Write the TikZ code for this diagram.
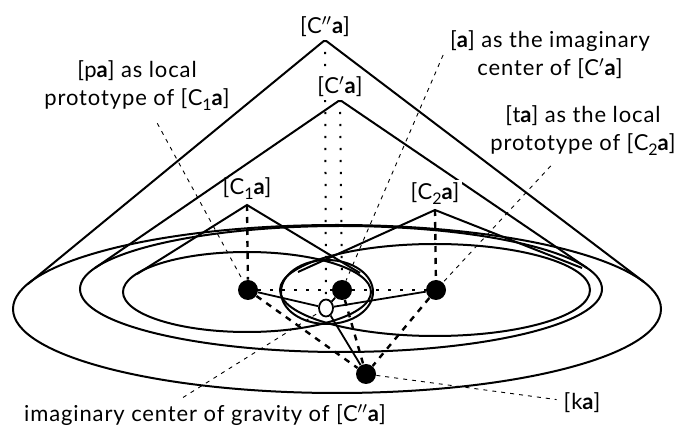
\documentclass[tikz,border=0pt]{standalone}
\usepackage{fontspec}
\setmainfont{Lato}[LetterSpace=4]
\usetikzlibrary{positioning,shapes.geometric}
\newcommand{\boa}{\ensuremath{\mathbf{a}}}
\newcommand{\subnum}[1]{\raisebox{-0.45ex}{\footnotesize #1}}

\begin{document}
\begin{tikzpicture}[
    x=0.5pt, y=-0.5pt,
    every node/.style={font=\fontsize{11}{14}\selectfont},
    rim/.style={line width=1pt},
    cone/.style={line width=1pt},
    apexlbl/.style={fill=white, inner sep=1.5pt},
    proto/.style={circle, fill=black, minimum size=10pt, inner sep=0pt},
    grav/.style={ellipse, draw, line width=0.9pt, fill=white, minimum width=7pt, minimum height=8.5pt, inner sep=0pt},
    tie/.style={line width=0.9pt},
    dotline/.style={line width=1pt, dash pattern=on 1.1pt off 4.9pt},
    dashline/.style={line width=1.2pt, dash pattern=on 3pt off 3pt},
    lead/.style={line width=0.45pt, dash pattern=on 2pt off 2.5pt}
  ]
  \useasboundingbox (0,0) rectangle (680,432);

  % base ellipses of the categories
  \draw[rim] (337,309) ellipse [x radius=324, y radius=84];
  \draw[rim] (341,289) ellipse [x radius=261, y radius=63];
  \draw[rim] (247,292) ellipse [x radius=124, y radius=40];
  \draw[rim] (435,290) ellipse [x radius=155, y radius=46];
  \draw[rim] (327,292) ellipse [x radius=46, y radius=32];

  % cone tops
  \coordinate (kpp) at (325,40);
  \coordinate (kp) at (340,100);
  \coordinate (k1) at (247,205);
  \coordinate (k2) at (435,210);

  \draw[cone] (28,284) -- (kpp) -- (644,282);
  \draw[cone] (95,268) -- (kp) -- (587,268);
  \draw[cone] (137,274) -- (k1) -- (360,273);
  \draw[cone] (298,272) -- (k2) -- (582,268);

  % prototypes
  \node[proto] (pa) at (248,290) {};
  \node[proto] (a) at (342,290) {};
  \node[proto] (ta) at (436,290) {};
  \node[proto] (ka) at (366,374) {};
  \node[grav] (g) at (326,308) {};

  \draw[dotline] (pa) -- (a) -- (ta);
  \draw[dotline] (kpp) -- (g);
  \draw[dotline] (kp) -- (a);
  \draw[dashline] (k1) -- (pa);
  \draw[dashline] (k2) -- (ta);

  \draw[tie] (pa) -- (g);
  \draw[tie] (ta) -- (g);
  \draw[tie] (a) -- (g);
  \draw[tie] (g) -- (ka);
  \draw[dashline] (pa) -- (ka);
  \draw[dashline] (ta) -- (ka);
  \draw[dashline] (a) -- (ka);

  % labels of the cones
  \node[apexlbl, above=0pt of kpp] (kppl) {[C$^{\prime\prime}$\boa]};
  \node[apexlbl, above=0pt of kp] (kpl) {[C$^{\prime}$\boa]};
  \node[above=1pt of k1, inner sep=1.5pt] (k1l) {[C\subnum{1}\boa]};
  \node[apexlbl, above=1pt of k2] (k2l) {[C\subnum{2}\boa]};

  % comments
  \node[align=center] (pal) at (137,86) {[p\boa] as local\\prototype of [C\subnum{1}\boa]};
  \node[align=center] (al) at (550,55) {[\boa] as the imaginary\\center of [C$^{\prime}$\boa]};
  \node[align=center] (tal) at (583,131) {[t\boa] as the local\\prototype of [C\subnum{2}\boa]};
  \node (gl) at (205,415) {imaginary center of gravity of [C$^{\prime\prime}$\boa]};
  \node (kal) at (582,403) {[k\boa]};

  \draw[lead, shorten <=3pt] (pal) -- (pa);
  \draw[lead] (al.west) -- (a);
  \draw[lead, shorten <=2pt] (tal) -- (ta);
  \draw[lead] ([xshift=-11pt]gl.north) -- (g);
  \draw[lead] (ka) -- (kal);
\end{tikzpicture}
\end{document}
